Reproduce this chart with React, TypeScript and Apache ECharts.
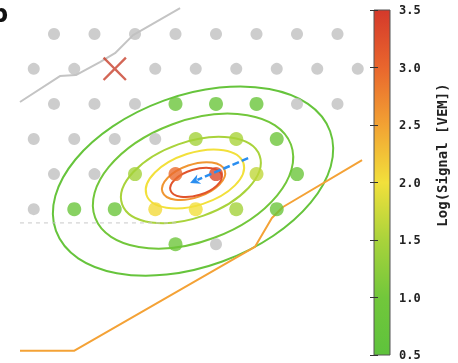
import React, { useEffect, useRef } from "react";
import * as echarts from "echarts";

// ---- data (km on the array plane) ----
const emptyStations: number[][] = [
  [0.75, 7.79], [2.25, 7.79], [3.75, 7.79], [5.25, 7.79], [6.75, 7.79], [8.25, 7.79], [9.75, 7.79], [11.25, 7.79],
  [0, 6.5], [1.5, 6.5], [4.5, 6.5], [6.0, 6.5], [7.5, 6.5], [9.0, 6.5], [10.5, 6.5], [12.0, 6.5],
  [0.75, 5.2], [2.25, 5.2], [3.75, 5.2], [9.75, 5.2], [11.25, 5.2],
  [0, 3.9], [1.5, 3.9], [3.0, 3.9], [4.5, 3.9],
  [0.75, 2.6], [2.25, 2.6],
  [0, 1.3],
  [6.75, 0],
];

// [x, y, log10(signal / VEM)]
const hitStations: number[][] = [
  [5.25, 5.2, 0.85], [6.75, 5.2, 0.8], [8.25, 5.2, 0.8],
  [6.0, 3.9, 1.45], [7.5, 3.9, 1.5], [9.0, 3.9, 0.9],
  [3.75, 2.6, 1.45], [5.25, 2.6, 2.95], [6.75, 2.6, 3.3], [8.25, 2.6, 1.65], [9.75, 2.6, 0.85],
  [1.5, 1.3, 0.8], [3.0, 1.3, 0.85], [4.5, 1.3, 2.05], [6.0, 1.3, 2.0], [7.5, 1.3, 1.45], [9.0, 1.3, 0.85],
  [5.25, 0, 0.9],
];

const crossStation: number[][] = [[3.0, 6.5]];

// contours: [cx, cy, level, semi-major, semi-minor, angleDeg]
const contours: number[][] = [
  [5.9, 2.34, 0.7, 5.4, 3.17, 20],
  [5.9, 2.34, 1.0, 3.87, 2.24, 20.5],
  [5.82, 2.38, 1.5, 2.7, 1.4, 19.5],
  [5.97, 2.42, 2.0, 1.89, 0.97, 18],
  [5.92, 2.34, 2.6, 1.22, 0.61, 19],
  [6.01, 2.29, 3.2, 0.99, 0.48, 17],
];

const grayTrack: number[][] = [
  [-0.51, 5.27], [0.97, 6.23], [1.56, 6.27], [2.45, 6.75], [3.01, 7.08], [3.68, 7.75], [5.42, 8.75],
];
const orangeTrack: number[][] = [
  [-0.51, -3.95], [1.49, -3.95], [8.19, -0.1], [8.82, 0.97], [9.23, 1.38], [12.16, 3.12],
];
const dashedLine: number[][] = [[-0.51, 0.79], [5.34, 0.79]];
// [tailX, tailY, tipX, tipY]
const arrow: number[][] = [[7.94, 3.19, 5.79, 2.27]];

const colorMin = 0.5;
const colorMax = 3.5;
const colorTickStep = 0.5;
const colorStops = ["#5ec23c", "#72c73b", "#a9d33b", "#f2e03b", "#f2a233", "#e9662d", "#d4392b"];

const xRange = [-1.25, 12.25];
const yRange = [-4.4, 9.05];

export default function App() {
  const ref = useRef<HTMLDivElement>(null);
  useEffect(() => {
    const chart = echarts.init(ref.current!, undefined, { renderer: "svg" });
    const gradient = new echarts.graphic.LinearGradient(
      0, 1, 0, 0,
      colorStops.map((c, i) => ({ offset: i / (colorStops.length - 1), color: c }))
    );
    const mono = "DejaVu Sans Mono";
    const option: any = {
      animation: false,
      grid: [
        { left: 0, top: 0, width: 364.5, height: 363 },
        { left: 374, top: 10, width: 16, height: 345 },
      ],
      xAxis: [
        { type: "value", gridIndex: 0, min: xRange[0], max: xRange[1], show: false },
        { type: "value", gridIndex: 1, min: 0, max: 1, show: false },
      ],
      yAxis: [
        { type: "value", gridIndex: 0, min: yRange[0], max: yRange[1], show: false },
        {
          type: "value", gridIndex: 1, min: colorMin, max: colorMax, interval: colorTickStep,
          position: "right", z: 10,
          axisLine: { show: false },
          splitLine: { show: false },
          axisTick: { show: true, inside: true, length: 4, lineStyle: { color: "#333", width: 1 } },
          axisLabel: {
            margin: 9, color: "#222", fontFamily: mono, fontWeight: "bold", fontSize: 12,
            formatter: (v: number) => v.toFixed(1),
          },
        },
        {
          type: "value", gridIndex: 1, min: colorMin, max: colorMax, interval: colorTickStep,
          position: "left", z: 10,
          axisLine: { show: false },
          splitLine: { show: false },
          axisTick: { show: true, inside: true, length: 4, lineStyle: { color: "#333", width: 1 } },
          axisLabel: { show: false },
        },
      ],
      visualMap: {
        type: "continuous", show: false, min: colorMin, max: colorMax, dimension: 2,
        seriesIndex: [3, 5],
        inRange: { color: colorStops },
      },
      series: [
        {
          type: "line", data: grayTrack, symbol: "none", silent: true,
          lineStyle: { color: "#c4c4c4", width: 2 },
        },
        {
          type: "line", data: orangeTrack, symbol: "none", silent: true,
          lineStyle: { color: "#f4a236", width: 2 },
        },
        {
          type: "line", data: dashedLine, symbol: "none", silent: true,
          lineStyle: { color: "#c8c8c8", width: 1, type: [4, 4] },
        },
        {
          type: "custom", data: contours, silent: true, z: 3,
          encode: { x: 0, y: 1 },
          renderItem: (params: any, api: any) => {
            const c = api.coord([api.value(0), api.value(1)]);
            const s = api.size([api.value(3), api.value(4)]);
            return {
              type: "ellipse",
              x: c[0], y: c[1],
              rotation: (api.value(5) * Math.PI) / 180,
              shape: { cx: 0, cy: 0, rx: s[0], ry: s[1] },
              style: { fill: "none", stroke: api.visual("color"), lineWidth: 2 },
            };
          },
        },
        {
          type: "scatter", data: emptyStations, symbolSize: 12, silent: true, z: 4,
          itemStyle: { color: "#c0c0c0" },
        },
        {
          type: "scatter", data: hitStations, symbolSize: 14, silent: true, z: 5,
        },
        {
          type: "scatter", data: crossStation, symbolSize: 24, silent: true, z: 6,
          symbol: "path://M0,7 L7,0 L50,43 L93,0 L100,7 L57,50 L100,93 L93,100 L50,57 L7,100 L0,93 L43,50 Z",
          itemStyle: { color: "#c8402c" },
        },
        {
          type: "custom", data: arrow, silent: true, z: 8,
          encode: { x: [0, 2], y: [1, 3] },
          renderItem: (params: any, api: any) => {
            const t = api.coord([api.value(0), api.value(1)]);
            const h = api.coord([api.value(2), api.value(3)]);
            const dx = h[0] - t[0];
            const dy = h[1] - t[1];
            const len = Math.sqrt(dx * dx + dy * dy);
            const ux = dx / len;
            const uy = dy / len;
            const nx = -uy;
            const ny = ux;
            const hl = 10;
            const hw = 5;
            const color = "#2a8ef0";
            return {
              type: "group",
              children: [
                {
                  type: "line",
                  shape: { x1: t[0], y1: t[1], x2: h[0] - ux * (hl - 2), y2: h[1] - uy * (hl - 2) },
                  style: { stroke: color, lineWidth: 2.5, lineDash: [7, 3] },
                },
                {
                  type: "polygon",
                  shape: {
                    points: [
                      [h[0], h[1]],
                      [h[0] - ux * hl + nx * hw, h[1] - uy * hl + ny * hw],
                      [h[0] - ux * hl * 0.7, h[1] - uy * hl * 0.7],
                      [h[0] - ux * hl - nx * hw, h[1] - uy * hl - ny * hw],
                    ],
                  },
                  style: { fill: color },
                },
              ],
            };
          },
        },
        {
          type: "custom", xAxisIndex: 1, yAxisIndex: 1, data: [[0, colorMin]], silent: true, z: 2,
          renderItem: (params: any, api: any) => {
            const p0 = api.coord([0, colorMax]);
            const p1 = api.coord([1, colorMin]);
            return {
              type: "rect",
              shape: { x: p0[0], y: p0[1], width: p1[0] - p0[0], height: p1[1] - p0[1] },
              style: { fill: gradient, stroke: "#555", lineWidth: 1 },
            };
          },
        },
      ],
      graphic: [
        {
          type: "text", left: -9, top: 2,
          style: { text: "b", fontSize: 24, fontWeight: "bold", fontFamily: "DejaVu Sans", fill: "#111" },
        },
        {
          type: "text", x: 442, y: 155, rotation: Math.PI / 2,
          style: {
            text: "Log(Signal [VEM])", fontSize: 14, fontWeight: "bold", fontFamily: mono,
            fill: "#222", align: "center", verticalAlign: "middle",
          },
        },
      ],
    };
    chart.setOption(option);
    return () => chart.dispose();
  }, []);
  return <div ref={ref} style={{ position: "fixed", left: 0, top: 0, width: 458, height: 363 }} />;
}
